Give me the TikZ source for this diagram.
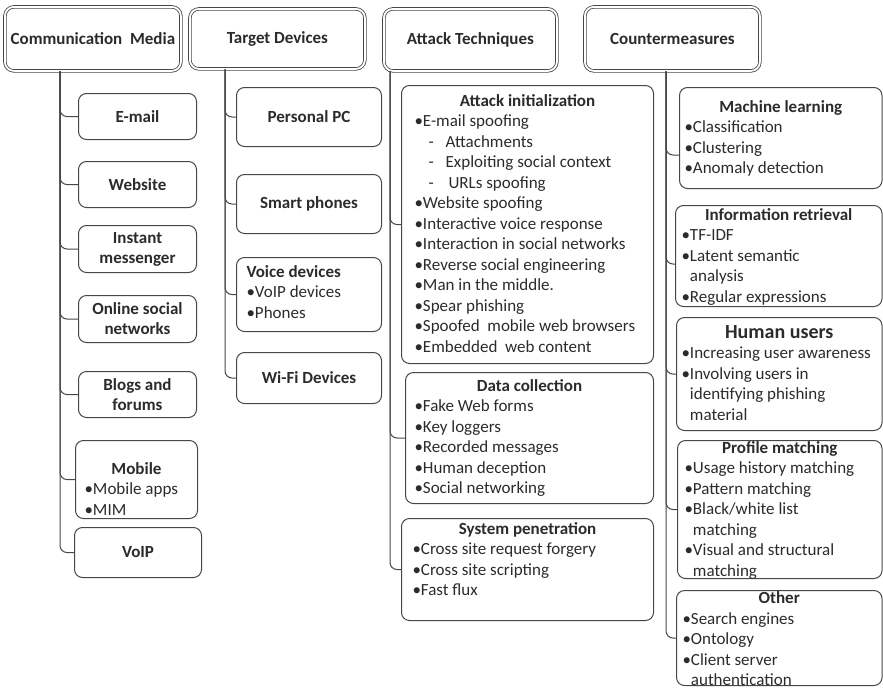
\documentclass[tikz,border=0pt]{standalone}
\usepackage{fontspec}
\setmainfont{Carlito}
\definecolor{linegray}{HTML}{474747}
\definecolor{inkgray}{HTML}{2B2B2B}
\newcommand{\cell}[4]{\parbox[c][#2pt][t]{#1pt}{\rightskip=-40pt plus 1fil\vspace*{#3pt}#4}}
\newcommand{\hang}{\hphantom{•}}
\newcommand{\subitm}{\hspace*{14pt}-\hspace*{12pt}}
\tikzset{
	head/.style={draw=linegray,double,double distance=1.8pt,line width=.8pt,rounded corners=9pt,anchor=north west,inner sep=0pt,font=\bfseries\fontsize{17}{20.5}\selectfont},
	box/.style={draw=linegray,line width=1pt,rounded corners=8pt,anchor=north west,inner sep=0pt,align=center,font=\bfseries\fontsize{17}{20}\selectfont},
	listbox/.style={draw=linegray,line width=1pt,rounded corners=8pt,anchor=north west,inner sep=0pt},
	link/.style={draw=linegray,line width=1pt,rounded corners=7pt},
}
\begin{document}
\begin{tikzpicture}[x=1pt,y=-1pt,font=\fontsize{17}{20.5}\selectfont,text=inkgray]
	\useasboundingbox (0,0) rectangle (883,688);
	% headers
	\node[head,minimum width=176pt,minimum height=64pt] (cm) at (4.5,6.5) {Communication\ \ Media};
	\node[head,minimum width=175pt,minimum height=60pt] (td) at (189.5,8.5) {Target Devices};
	\node[head,minimum width=173pt,minimum height=62pt] (at) at (383.5,8.5) {Attack Techniques};
	\node[head,minimum width=175pt,minimum height=64pt] (cz) at (584.5,6.5) {Countermeasures};
	\path ([xshift=55.5pt]cm.south west) coordinate (cmroot)
		([xshift=35.5pt]td.south west) coordinate (tdroot)
		([xshift=6.5pt]at.south west) coordinate (atroot)
		([xshift=81.5pt]cz.south west) coordinate (czroot);
	
	% communication media
	\node[box,minimum width=118pt,minimum height=46pt] (email) at (78,93) {E-mail};
	\node[box,minimum width=118pt,minimum height=46pt] (web) at (78,161) {Website};
	\node[box,minimum width=118pt,minimum height=47pt] (im) at (78,225) {Instant\\messenger};
	\node[box,minimum width=118pt,minimum height=47pt] (osn) at (78,295) {Online social\\networks};
	\node[box,minimum width=118pt,minimum height=46pt] (blog) at (78,371) {Blogs and\\forums};
	\node[listbox] (mob) at (75,440) {\cell{122}{78}{19.5}{\centerline{\bfseries\strut Mobile}\leftskip=9pt
			•Mobile apps\\
			•MIM}};
	\node[box,minimum width=127pt,minimum height=50pt] (voip) at (74,527) {VoIP};
	\foreach \b in {email,web,im,osn,blog,mob,voip}
		\draw[link] (cmroot) |- (\b.west);
	
	% target devices
	\node[box,minimum width=145pt,minimum height=59pt] (ppc) at (236,87) {Personal PC};
	\node[box,minimum width=145pt,minimum height=59pt] (sph) at (236,174) {Smart phones};
	\node[listbox] (vdev) at (236,257) {\cell{145}{74}{5.5}{\leftskip=10pt
			{\bfseries\strut Voice devices}\\
			•VoIP devices\\
			•Phones}};
	\node[box,minimum width=145pt,minimum height=51pt] (wifi) at (236,352) {Wi-Fi Devices};
	\foreach \b in {ppc,sph,vdev,wifi}
		\draw[link] (tdroot) |- (\b.west);
	
	% attack techniques
	\node[listbox] (ai) at (401,85) {\cell{252}{278}{6.5}{\centerline{\bfseries\strut Attack initialization}\leftskip=13pt
			•E-mail spoofing\\
			\subitm Attachments\\
			\subitm Exploiting social context\\
			\subitm\,URLs spoofing\\
			•Website spoofing\\
			•Interactive voice response\\
			•Interaction in social networks\\
			•Reverse social engineering\\
			•Man in the middle.\\
			•Spear phishing\\
			•Spoofed\ \ mobile web browsers\\
			•Embedded\ \ web content}};
	\node[listbox] (dc) at (405,372) {\cell{248}{131}{4.5}{\centerline{\bfseries\strut Data collection}\leftskip=9pt
			•Fake Web forms\\
			•Key loggers\\
			•Recorded messages\\
			•Human deception\\
			•Social networking}};
	\node[listbox] (spen) at (401,518) {\cell{252}{102}{1.5}{\centerline{\bfseries\strut System penetration}\leftskip=11pt
			•Cross site request forgery\\
			•Cross site scripting\\
			•Fast flux}};
	\foreach \b in {ai,dc,spen}
		\draw[link] (atroot) |- (\b.west);
	
	% countermeasures
	\node[listbox] (ml) at (679,87) {\cell{202.5}{101}{10.5}{\centerline{\bfseries\strut Machine learning}\leftskip=5pt
			•Classification\\
			•Clustering\\
			•Anomaly detection}};
	\node[listbox] (ir) at (675,205) {\cell{206.5}{101}{0.5}{\centerline{\bfseries\strut Information retrieval}\leftskip=6pt
			•TF-IDF\\
			•Latent semantic\\
			\hang analysis\\
			•Regular expressions}};
	\node[listbox] (hu) at (676,317) {\cell{205.5}{113}{4}{\centerline{\bfseries\fontsize{20}{24}\selectfont\strut Human users}\leftskip=5pt
			•Increasing user awareness\\
			•Involving users in\\
			\hang identifying phishing\\
			\hang material}};
	\node[listbox] (pm) at (677,440) {\cell{204.5}{138}{-1.5}{\centerline{\bfseries\strut Profile matching}\leftskip=7pt
			•Usage history matching\\
			•Pattern matching\\
			•Black/white list\\
			\hang matching\\
			•Visual and structural\\
			\hang matching}};
	\node[listbox] (ot) at (676,590) {\cell{205.5}{95}{-1}{\centerline{\bfseries\strut Other}\leftskip=6pt
			•Search engines\\
			•Ontology\\
			•Client server\\
			\hang authentication}};
	\draw[link] (czroot) |- ([yshift=-17pt]ml.west);
	\draw[link] (czroot) |- ([yshift=-8pt]ir.west);
	\foreach \b in {hu,pm,ot}
		\draw[link] (czroot) |- (\b.west);
\end{tikzpicture}
\end{document}
